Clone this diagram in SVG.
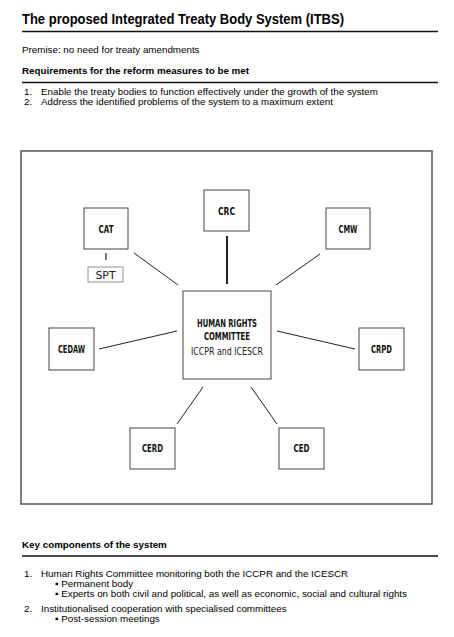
<svg xmlns="http://www.w3.org/2000/svg" width="454" height="637" viewBox="0 0 454 637">
<style>
.t{font-family:"Liberation Sans",Arial,sans-serif;fill:#000;font-size:9.8px}
.h{font-weight:bold}
.n{font-family:"DejaVu Sans Condensed","Liberation Sans Narrow","Roboto",sans-serif;font-weight:bold;font-size:10px;fill:#111;text-anchor:middle;dominant-baseline:central}
.nr{font-family:"DejaVu Sans Condensed","Liberation Sans Narrow","Roboto",sans-serif;font-size:10.5px;fill:#222;text-anchor:middle;dominant-baseline:central}
.box{fill:#fff;stroke:#444;stroke-width:1}
.rule{stroke:#111;stroke-width:1.3}
.c line{stroke:#222;stroke-width:1}
</style>
<rect width="454" height="637" fill="#fff"/>
<text class="t h" x="22" y="24" style="font-size:14px" textLength="322" lengthAdjust="spacingAndGlyphs">The proposed Integrated Treaty Body System (ITBS)</text>
<line class="rule" x1="22" y1="31.5" x2="438" y2="31.5"/>
<text class="t" x="22" y="53">Premise: no need for treaty amendments</text>
<text class="t h" x="22" y="74">Requirements for the reform measures to be met</text>
<line class="rule" x1="22" y1="82.5" x2="438" y2="82.5"/>
<text class="t" x="24" y="95">1.</text>
<text class="t" x="41" y="95">Enable the treaty bodies to function effectively under the growth of the system</text>
<text class="t" x="24" y="105">2.</text>
<text class="t" x="41" y="105">Address the identified problems of the system to a maximum extent</text>
<rect x="21" y="151" width="411" height="353" fill="none" stroke="#555" stroke-width="1.5"/>
<g class="c" id="connectors">
<line x1="134" y1="253" x2="178" y2="285"/>
<line x1="227" y1="236" x2="227" y2="284" style="stroke-width:2"/>
<line x1="320" y1="254" x2="276" y2="285"/>
<line x1="99" y1="349" x2="177" y2="331"/>
<line x1="277" y1="331" x2="355" y2="349"/>
<line x1="203" y1="387" x2="177" y2="424"/>
<line x1="251" y1="387" x2="277" y2="424"/>
<line x1="106" y1="253" x2="106" y2="260" style="stroke-width:1.2"/>
</g>
<g id="crc"><rect class="box" x="204" y="190" width="45" height="41"/><text class="n" x="226.5" y="211" textLength="17" lengthAdjust="spacingAndGlyphs">CRC</text></g>
<g id="cat"><rect class="box" x="84" y="208" width="44" height="41"/><text class="n" x="106" y="229" textLength="15" lengthAdjust="spacingAndGlyphs">CAT</text></g>
<g id="spt"><rect x="88" y="267" width="35" height="15" fill="#fff" stroke="#777" stroke-width="0.8"/><text class="nr" x="105.5" y="274.5" textLength="20" lengthAdjust="spacingAndGlyphs">SPT</text></g>
<g id="cmw"><rect class="box" x="326" y="208" width="44" height="41"/><text class="n" x="348" y="229" textLength="19" lengthAdjust="spacingAndGlyphs">CMW</text></g>
<g id="hrc"><rect class="box" x="183" y="291" width="88" height="88"/><text class="n" x="227" y="323" textLength="60" lengthAdjust="spacingAndGlyphs">HUMAN RIGHTS</text><text class="n" x="227" y="336.5" textLength="46" lengthAdjust="spacingAndGlyphs">COMMITTEE</text><text class="nr" x="227" y="350.5" textLength="72" lengthAdjust="spacingAndGlyphs">ICCPR and ICESCR</text></g>
<g id="cedaw"><rect class="box" x="49" y="328" width="45" height="42"/><text class="n" x="71.5" y="349" textLength="27" lengthAdjust="spacingAndGlyphs">CEDAW</text></g>
<g id="crpd"><rect class="box" x="359" y="328" width="45" height="42"/><text class="n" x="381.5" y="349" textLength="21" lengthAdjust="spacingAndGlyphs">CRPD</text></g>
<g id="cerd"><rect class="box" x="130" y="428" width="45" height="41"/><text class="n" x="152.5" y="448.5" textLength="21" lengthAdjust="spacingAndGlyphs">CERD</text></g>
<g id="ced"><rect class="box" x="279" y="428" width="45" height="41"/><text class="n" x="301.5" y="448.5" textLength="16" lengthAdjust="spacingAndGlyphs">CED</text></g>
<text class="t h" x="22" y="548">Key components of the system</text>
<line class="rule" x1="22" y1="556" x2="438" y2="556"/>
<text class="t" x="24" y="577">1.</text>
<text class="t" x="41" y="577">Human Rights Committee monitoring both the ICCPR and the ICESCR</text>
<text class="t" x="55" y="587">▪ Permanent body</text>
<text class="t" x="55" y="597">▪ Experts on both civil and political, as well as economic, social and cultural rights</text>
<text class="t" x="24" y="612">2.</text>
<text class="t" x="41" y="612">Institutionalised cooperation with specialised committees</text>
<text class="t" x="55" y="622">▪ Post-session meetings</text>
</svg>
